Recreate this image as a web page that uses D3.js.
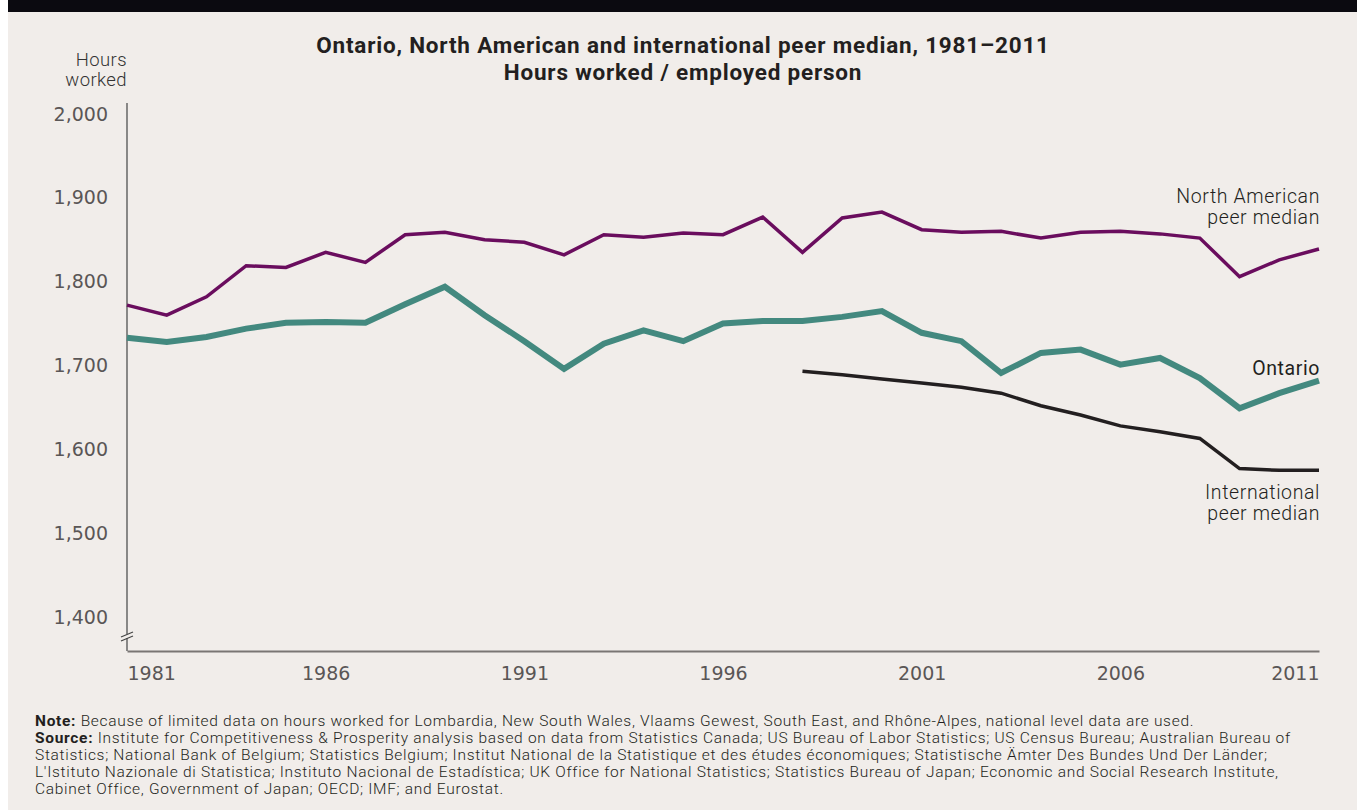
<!DOCTYPE html>
<html>
<head>
<meta charset="utf-8">
<script src="https://cdn.jsdelivr.net/npm/d3@7"></script>
<style>
  body { margin: 0; background: #ffffff; }
  #chart { position: absolute; left: 0; top: 0; }
</style>
</head>
<body>
<div id="chart"></div>
<script>
// data
const years = d3.range(1981, 2012);
const ontario = [1733, 1728, 1734, 1744, 1751, 1752, 1751, 1773, 1794, 1760,
                 1729, 1696, 1726, 1742, 1729, 1750, 1753, 1753, 1758, 1765,
                 1739, 1729, 1691, 1715, 1719, 1701, 1709, 1685, 1649, 1667, 1682];
const northAmerican = [1772, 1760, 1782, 1819, 1817, 1835, 1823, 1856, 1859, 1850,
                       1847, 1832, 1856, 1853, 1858, 1856, 1877, 1835, 1876, 1883,
                       1862, 1859, 1860, 1852, 1859, 1860, 1857, 1852, 1806, 1826, 1839];
const intlYears = d3.range(1998, 2012);
const international = [1693, 1689, 1684, 1679, 1674, 1667, 1652, 1641, 1628, 1621,
                       1613, 1577, 1575, 1575];
const yTicks = [1400, 1500, 1600, 1700, 1800, 1900, 2000];
const xTicks = [1981, 1986, 1991, 1996, 2001, 2006, 2011];

const titleLines = ["Ontario, North American and international peer median, 1981–2011",
                    "Hours worked / employed person"];
const noteLines = [
  [["Note:", true], [" Because of limited data on hours worked for Lombardia, New South Wales, Vlaams Gewest, South East, and Rhône-Alpes, national level data are used.", false]],
  [["Source:", true], [" Institute for Competitiveness & Prosperity analysis based on data from Statistics Canada; US Bureau of Labor Statistics; US Census Bureau; Australian Bureau of", false]],
  [["Statistics; National Bank of Belgium; Statistics Belgium; Institut National de la Statistique et des études économiques; Statistische Ämter Des Bundes Und Der Länder;", false]],
  [["L'Istituto Nazionale di Statistica; Instituto Nacional de Estadística; UK Office for National Statistics; Statistics Bureau of Japan; Economic and Social Research Institute,", false]],
  [["Cabinet Office, Government of Japan; OECD; IMF; and Eurostat.", false]]
];

const width = 1357;
const height = 810;
const bg = "#f1edea";
const font = "Roboto, 'Liberation Sans', sans-serif";
const tickFont = "'DejaVu Sans', sans-serif";

const svg = d3.select("#chart")
  .append("svg")
  .attr("width", width)
  .attr("height", height);

// panel + dark band at top
svg.append("rect").attr("x", 8).attr("y", 0).attr("width", width - 8).attr("height", height).attr("fill", bg);
svg.append("rect").attr("x", 8).attr("y", 0).attr("width", width - 8).attr("height", 12).attr("fill", "#0b0a10");

// scales
const x = d3.scaleLinear().domain([1981, 2011]).range([127, 1319]);
const y = d3.scaleLinear().domain([1400, 2000]).range([617, 114]);
const baseY = 651;

// title
svg.append("g").selectAll("text")
  .data(titleLines)
  .join("text")
  .attr("x", 683)
  .attr("y", (d, i) => 53 + i * 27)
  .attr("text-anchor", "middle")
  .attr("font-family", font)
  .attr("font-weight", 700)
  .attr("font-size", 22.5)
  .attr("letter-spacing", 0.8)
  .attr("fill", "#231f20")
  .text(d => d);

// y axis title
svg.append("g").selectAll("text")
  .data(["Hours", "worked"])
  .join("text")
  .attr("x", 127)
  .attr("y", (d, i) => 66 + i * 20)
  .attr("text-anchor", "end")
  .attr("font-family", font)
  .attr("font-weight", 300)
  .attr("font-size", 18.5)
  .attr("letter-spacing", 0.4)
  .attr("fill", "#333")
  .text(d => d);

// y axis
const yAxis = svg.append("g")
  .attr("transform", "translate(127,0)")
  .call(d3.axisLeft(y).tickValues(yTicks).tickSize(0).tickPadding(19)
    .tickFormat(d3.format(",")));
yAxis.select(".domain").remove();
yAxis.selectAll("text")
  .attr("font-family", tickFont)
  .attr("font-size", 19)
  .attr("fill", "#5a5656");

svg.append("line")
  .attr("x1", 127).attr("x2", 127)
  .attr("y1", 103).attr("y2", baseY)
  .attr("stroke", "#444").attr("stroke-width", 1.2);

// x axis
const xAxis = svg.append("g")
  .attr("transform", `translate(0,${baseY})`)
  .call(d3.axisBottom(x).tickValues(xTicks).tickSize(0).tickPadding(16)
    .tickFormat(d3.format("d")));
xAxis.select(".domain")
  .attr("stroke", "#7a7674").attr("stroke-width", 2);
xAxis.selectAll("text")
  .attr("font-family", tickFont)
  .attr("font-size", 19)
  .attr("fill", "#5a5656")
  .attr("dy", "0.71em")
  .attr("text-anchor", d => d === 1981 ? "start" : d === 2011 ? "end" : "middle");

// axis break
svg.append("rect").attr("x", 124).attr("y", 634).attr("width", 6).attr("height", 4).attr("fill", bg);
svg.append("g").selectAll("line")
  .data([0, 4])
  .join("line")
  .attr("x1", 121).attr("x2", 133)
  .attr("y1", d => 637 + d).attr("y2", d => 632 + d)
  .attr("stroke", "#444").attr("stroke-width", 1.2);

// lines
const line = d3.line().x(d => x(d[0])).y(d => y(d[1]));

svg.append("path")
  .datum(years.map((yr, i) => [yr, northAmerican[i]]))
  .attr("fill", "none")
  .attr("stroke", "#6a0d5e")
  .attr("stroke-width", 3.5)
  .attr("d", line);

svg.append("path")
  .datum(intlYears.map((yr, i) => [yr, international[i]]))
  .attr("fill", "none")
  .attr("stroke", "#231f20")
  .attr("stroke-width", 3.5)
  .attr("d", line);

svg.append("path")
  .datum(years.map((yr, i) => [yr, ontario[i]]))
  .attr("fill", "none")
  .attr("stroke", "#43897f")
  .attr("stroke-width", 6)
  .attr("d", line);

// series labels
const labels = [
  {lines: ["North American", "peer median"], y: 203, weight: 300},
  {lines: ["Ontario"], y: 375, weight: 400},
  {lines: ["International", "peer median"], y: 499, weight: 300}
];
labels.forEach(l => {
  svg.append("g").selectAll("text")
    .data(l.lines)
    .join("text")
    .attr("x", 1320)
    .attr("y", (d, i) => l.y + i * 21)
    .attr("text-anchor", "end")
    .attr("font-family", font)
    .attr("font-weight", l.weight)
    .attr("font-size", 19.5)
    .attr("letter-spacing", 0.6)
    .attr("fill", "#231f20")
    .text(d => d);
});

// notes
const note = svg.append("g");
noteLines.forEach((parts, i) => {
  const t = note.append("text")
    .attr("x", 35)
    .attr("y", 726 + i * 17)
    .attr("font-family", font)
    .attr("font-size", 15.5)
    .attr("letter-spacing", 0.7)
    .attr("fill", "#231f20");
  parts.forEach(p => {
    t.append("tspan")
      .attr("font-weight", p[1] ? 700 : 300)
      .text(p[0]);
  });
});
</script>
</body>
</html>
